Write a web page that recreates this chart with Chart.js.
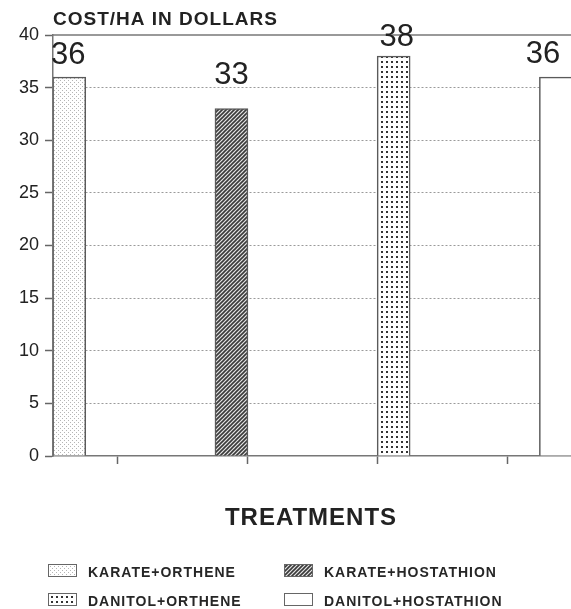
<!DOCTYPE html>
<html>
<head>
<meta charset="utf-8">
<script src="https://cdn.jsdelivr.net/npm/chart.js@4"></script>
<style>
  html, body { margin: 0; padding: 0; background: #fff; overflow: hidden; }
  #wrap { width: 571px; height: 609px; overflow: hidden; }
  canvas { display: block; }
</style>
</head>
<body>
<div id="wrap"><canvas id="costChart" width="650" height="609"></canvas></div>
<script>
// treatments and cost per hectare (dollars)
const categories = ['KARATE+ORTHENE', 'KARATE+HOSTATHION', 'DANITOL+ORTHENE', 'DANITOL+HOSTATHION'];
const costValues = [36, 33, 38, 36];
const yTitle = 'COST/HA IN DOLLARS';
const xTitle = 'TREATMENTS';

const FONT = '"Liberation Sans", Arial, sans-serif';
var ctx = document.getElementById('costChart');
var c2d = ctx.getContext('2d');

function makePattern(size, draw) {
    const cv = document.createElement('canvas');
    cv.width = size; cv.height = size;
    const g = cv.getContext('2d');
    draw(g, size);
    return c2d.createPattern(cv, 'repeat');
}

// light sparse dots
const lightDots = makePattern(4, function (g) {
    g.fillStyle = '#fff'; g.fillRect(0, 0, 4, 4);
    g.fillStyle = '#b5b5b5';
    g.fillRect(0, 0, 1, 1);
    g.fillRect(2, 2, 1, 1);
});
// diagonal hatch ////
const hatch = makePattern(4, function (g) {
    g.fillStyle = '#e4e4e4'; g.fillRect(0, 0, 4, 4);
    g.strokeStyle = '#3a3a3a'; g.lineWidth = 1.6;
    g.beginPath();
    g.moveTo(-1, 5); g.lineTo(5, -1);
    g.moveTo(-1, 1); g.lineTo(1, -1);
    g.moveTo(3, 5); g.lineTo(5, 3);
    g.stroke();
});
// dense dark dots
const darkDots = makePattern(5, function (g) {
    g.fillStyle = '#fff'; g.fillRect(0, 0, 5, 5);
    g.fillStyle = '#333';
    g.fillRect(1, 1, 2, 2);
});
const fills = [lightDots, hatch, darkDots, '#ffffff'];

// labels on top of bars, plus axis titles, top line and legend
const annotate = {
    id: 'annotate',
    afterDraw(chart, args, opts) {
        const g = chart.ctx;
        const area = chart.chartArea;
        g.save();
        // top frame line at 40
        g.strokeStyle = '#777';
        g.lineWidth = 1.5;
        g.beginPath();
        g.moveTo(area.left, area.top);
        g.lineTo(area.right, area.top);
        g.stroke();

        g.fillStyle = '#222';
        g.textBaseline = 'alphabetic';
        // value labels
        const meta = chart.getDatasetMeta(0);
        g.font = '31px ' + FONT;
        g.textAlign = 'center';
        meta.data.forEach(function (bar, i) {
            g.fillText(String(costValues[i]), bar.x + opts.dx[i], bar.y - opts.dy[i]);
        });

        // y title
        g.textAlign = 'left';
        g.font = 'bold 19px ' + FONT;
        g.letterSpacing = '1px';
        g.fillText(yTitle, area.left, 25);

        // x title
        g.textAlign = 'center';
        g.font = 'bold 24px ' + FONT;
        g.fillText(xTitle, 311, 525);

        // legend 2x2
        g.textAlign = 'left';
        g.font = 'bold 14px ' + FONT;
        const cols = [48, 284];
        const rows = [564, 593];
        categories.forEach(function (name, i) {
            const x = cols[i % 2];
            const y = rows[Math.floor(i / 2)];
            g.fillStyle = fills[i];
            g.fillRect(x, y, 29, 13);
            g.strokeStyle = '#666';
            g.lineWidth = 1;
            g.strokeRect(x + 0.5, y + 0.5, 28, 12);
            g.fillStyle = '#262626';
            g.fillText(name, x + 40, y + 13);
        });
        g.restore();
    }
};

const config = {
    type: 'bar',
    data: {
        datasets: [{
            label: 'Cost/ha',
            data: costValues.map(function (v, i) { return { x: i, y: v }; }),
            xAxisID: 'xb',
            backgroundColor: fills,
            borderColor: '#5a5a5a',
            borderWidth: 1.5,
            barThickness: 33,
        }]
    },
    options: {
        responsive: false,
        animation: false,
        layout: { padding: { top: 35, right: 13, bottom: 145, left: 0 } },
        plugins: {
            legend: { display: false },
            tooltip: { enabled: false },
            annotate: { dx: [-1, 0, 3, -13], dy: [13, 25, 10, 14] }
        },
        scales: {
            // hidden scale the bars sit on
            xb: {
                type: 'linear',
                display: false,
                offset: false,
                min: -0.1,
                max: 3.5,
            },
            // visible axis: only the zero line and tick marks
            x: {
                type: 'linear',
                position: 'bottom',
                offset: false,
                min: -0.5,
                max: 4,
                ticks: { display: false, stepSize: 1, includeBounds: false },
                grid: { offset: false, drawOnChartArea: false, drawTicks: true, tickLength: 8, tickColor: '#666', tickWidth: 1.5 },
                border: { color: '#777', width: 1.5 },
            },
            y: {
                min: 0,
                max: 40,
                afterFit: function (scale) { scale.width = 53; },
                ticks: {
                    stepSize: 5,
                    color: '#222',
                    padding: 6,
                    font: { family: FONT, size: 18 },
                },
                grid: {
                    color: function (c) {
                        return (c.tick && (c.tick.value === 0 || c.tick.value === 40)) ? 'rgba(0,0,0,0)' : '#9a9a9a';
                    },
                    lineWidth: 1,
                    tickLength: 8,
                    tickColor: '#666',
                    tickWidth: 1.5,
                },
                border: { color: '#777', width: 1.5, dash: [2, 2] },
            }
        }
    },
    plugins: [annotate]
};
var costChart = new Chart(ctx, config);
</script>
</body>
</html>
